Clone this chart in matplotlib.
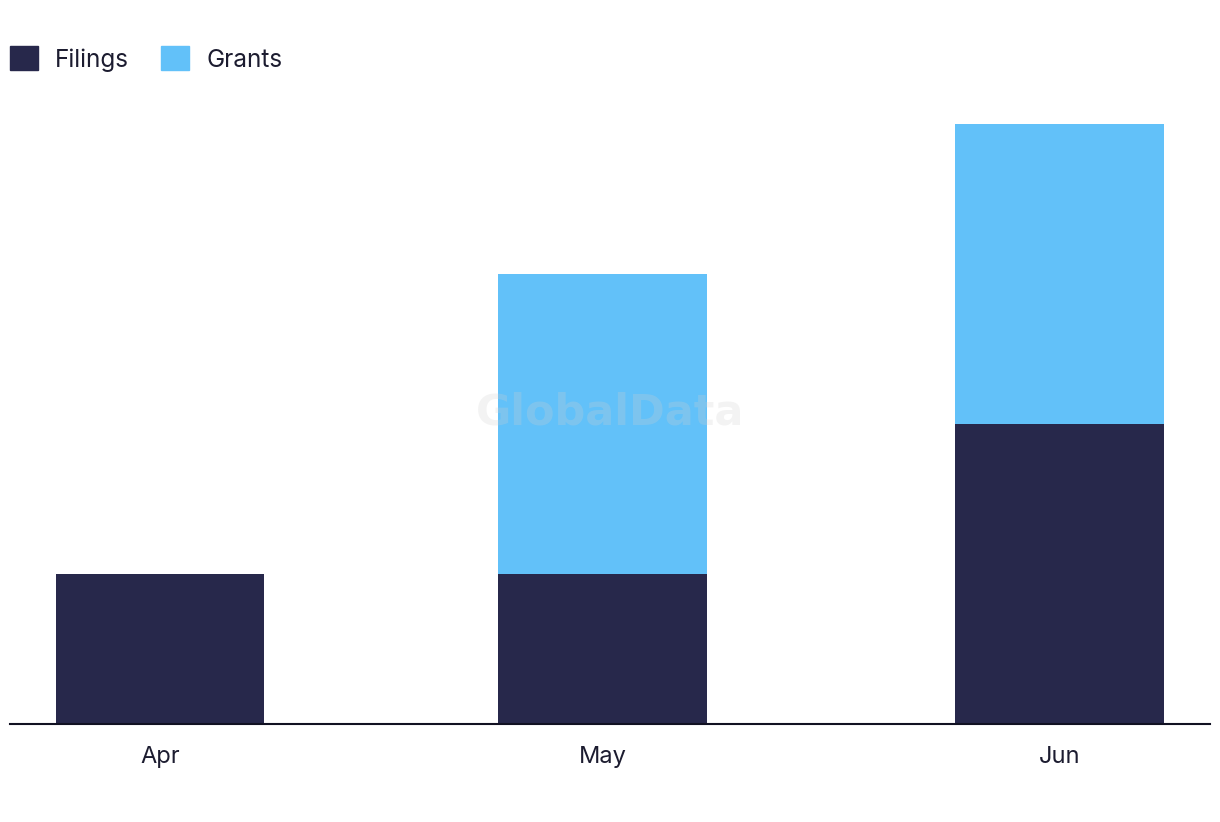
import datetime as dt
import matplotlib.pyplot as plt
import matplotlib.dates as mdates
from matplotlib.patches import Patch

months = ["Apr", "May", "Jun"]
month_starts = [dt.date(2023, 4, 1), dt.date(2023, 5, 1), dt.date(2023, 6, 1)]
filings = [1, 1, 2]
grants = [0, 2, 2]

navy = "#27284b"
sky = "#62c1f9"
text_col = "#1c1c30"

plt.rcParams["font.family"] = ["Inter", "DejaVu Sans"]

fig = plt.figure(figsize=(12.2, 8.22), dpi=100)
ax = fig.add_axes([10 / 1220, 1 - 724 / 822, 1200 / 1220, 624 / 822])

x = mdates.date2num(month_starts)
width = 14.15
ax.bar(x, filings, width=width, color=navy, label="Filings")
ax.bar(x, grants, width=width, bottom=filings, color=sky, label="Grants")

ax.set_xlim(x[0] - 10.18, x[0] + 71.2)
ax.set_ylim(0, 4.16)
ax.set_xticks(x)
ax.set_xticklabels(months)
ax.tick_params(axis="x", length=0, pad=15.5, labelsize=17, colors=text_col)
ax.set_yticks([])
for side in ["top", "right", "left"]:
    ax.spines[side].set_visible(False)
ax.spines["bottom"].set_color("#111122")
ax.spines["bottom"].set_linewidth(1.5)

# watermark
fig.text(610 / 1220, 1 - 412 / 822, "GlobalData", ha="center", va="center",
         fontsize=31, fontweight="bold", family="DejaVu Sans",
         color="#d0d0d0", alpha=0.25)

handles = [Patch(color=navy), Patch(color=sky)]
leg = fig.legend(handles, ["Filings", "Grants"], loc="center left",
                 bbox_to_anchor=(10 / 1220, 1 - 59 / 822), ncol=2, frameon=False,
                 fontsize=17.5, handlelength=1.14, handleheight=1.14,
                 handletextpad=0.72, columnspacing=1.3, borderpad=0, borderaxespad=0)
for t in leg.get_texts():
    t.set_color(text_col)

fig.savefig("out.png", dpi=100, facecolor="white")
